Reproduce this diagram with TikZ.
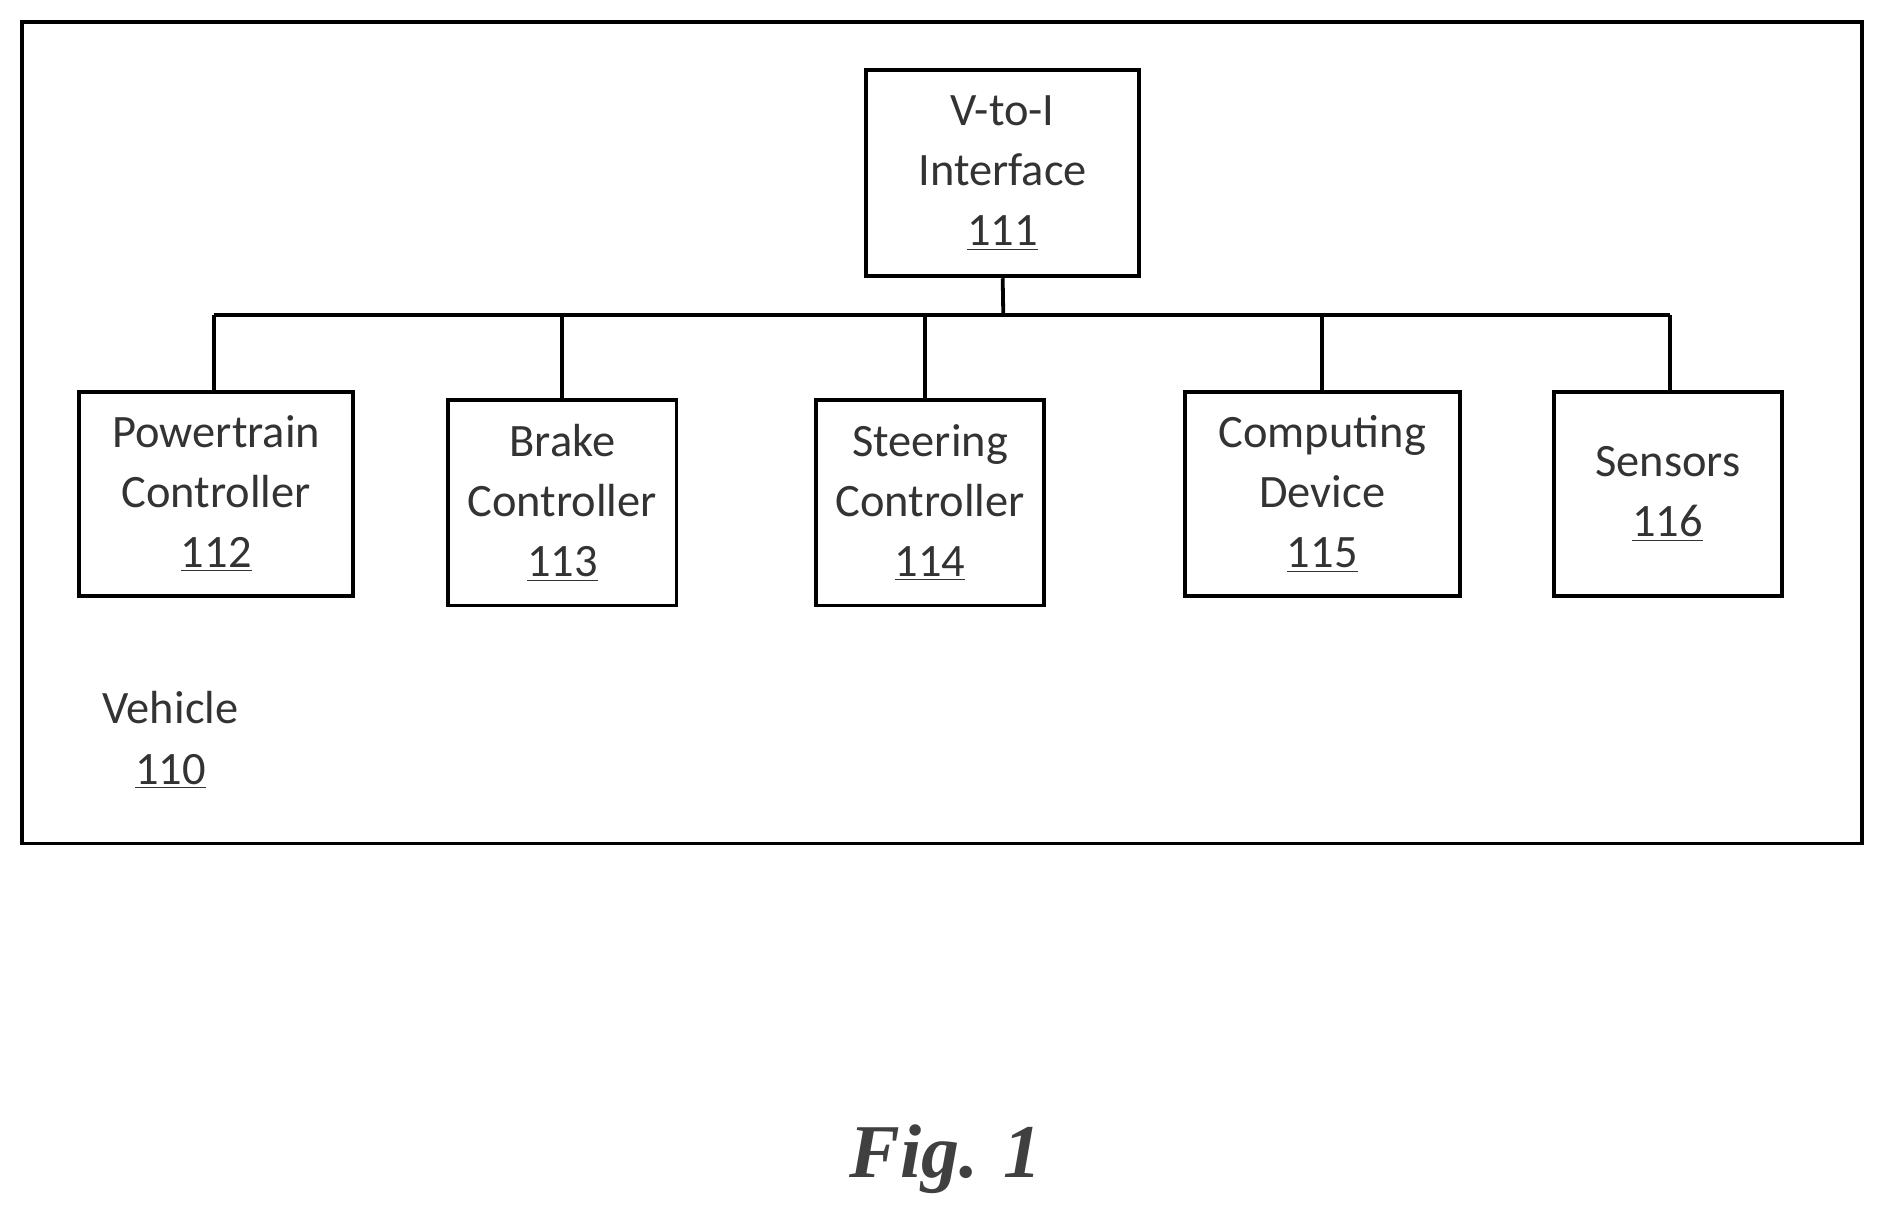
\documentclass[tikz,border=0pt]{standalone}
\usepackage{fontspec}
\setmainfont{Carlito}
\newfontfamily\figfont{Liberation Serif}
\begin{document}
\begin{tikzpicture}[x=0.02cm,y=-0.02cm,
  box/.style={draw,line width=1.8pt},
  lbl/.style={align=center,font=\fontsize{22}{28.5}\selectfont,text=black!80},
  wire/.style={line width=1.8pt}]
\useasboundingbox (0,0) rectangle (1568,1013);
\draw[box] (18,18) rectangle (1550,702);
\node[box,minimum width=227*0.02cm,minimum height=172*0.02cm] (v) at (834.5,144) {};
\node[lbl] at (v) {V-to-I\\Interface\\\underline{111}};
\node[box,minimum width=228*0.02cm,minimum height=170*0.02cm] (p) at (180,411) {};
\node[lbl] at (p) {Powertrain\\Controller\\\underline{112}};
\node[box,minimum width=190*0.02cm,minimum height=171*0.02cm] (b) at (468,418.5) {};
\node[lbl] at (b) {Brake\\Controller\\\underline{113}};
\node[box,minimum width=190*0.02cm,minimum height=171*0.02cm] (s) at (774,418.5) {};
\node[lbl] at (s) {Steering\\Controller\\\underline{114}};
\node[box,minimum width=229*0.02cm,minimum height=170*0.02cm] (c) at (1100.5,411) {};
\node[lbl] at (c) {Computing\\Device\\\underline{115}};
\node[box,minimum width=190*0.02cm,minimum height=170*0.02cm] (n) at (1388,411) {};
\node[lbl] at (n) {Sensors\\\underline{116}};
\node[lbl] (veh) at (142,616) {Vehicle\\\underline{110}};
\coordinate (bus) at (835,262);
\draw[wire] (v.south) -- (bus);
\draw[wire] (178,262) -- (1390,262);
\draw[wire] (178,262) -- (178,326);
\draw[wire] (468,262) -- (468,333);
\draw[wire] (770,262) -- (770,333);
\draw[wire] (1100,262) -- (1100,326);
\draw[wire] (1390,262) -- (1390,326);
\node[font=\figfont\bfseries\itshape\fontsize{36}{40}\selectfont,text=black!75] (fig) at (787,965) {Fig. 1};
\end{tikzpicture}
\end{document}
